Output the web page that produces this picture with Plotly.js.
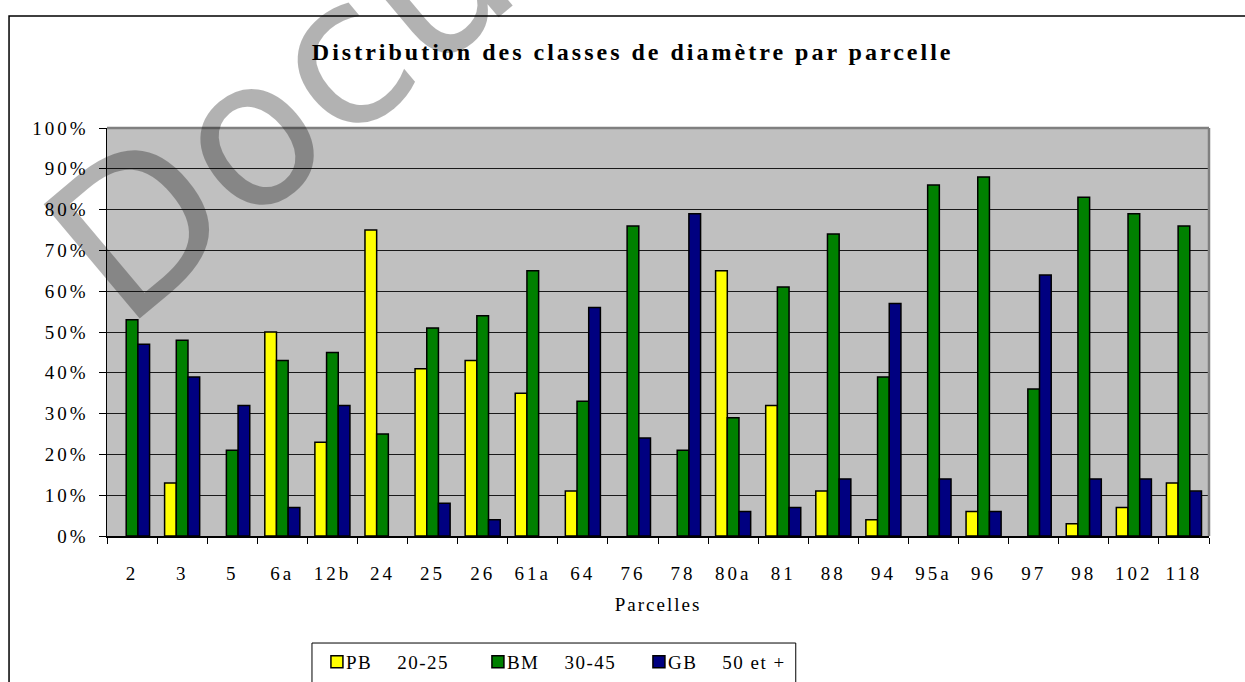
<!DOCTYPE html>
<html><head><meta charset="utf-8">
<script src="https://cdn.plot.ly/plotly-3.0.1.min.js"></script>
<style>
body{margin:0;background:#fff}
#chart{width:1245px;height:682px}
.xtick text,.ytick text{letter-spacing:3px}
.gtitle{letter-spacing:3px}
.xtitle{letter-spacing:2px}
.legendtext{letter-spacing:1.5px;transform:translateX(-11px)}
</style></head><body><div id="chart"></div>
<script>
const categories = ['2','3','5','6a','12b','24','25','26','61a','64','76','78','80a','81','88','94','95a','96','97','98','102','118'];
const pb = [0,13,0,50,23,75,41,43,35,11,0,0,65,32,11,4,0,6,0,3,7,13];
const bm = [53,48,21,43,45,25,51,54,65,33,76,21,29,61,74,39,86,88,36,83,79,76];
const gb = [47,39,32,7,32,0,8,4,0,56,24,79,6,7,14,57,14,6,64,14,14,11];
const seriesNames = ['PB\u00a0\u00a0\u00a0\u00a020-25','BM\u00a0\u00a0\u00a0\u00a030-45','GB\u00a0\u00a0\u00a0\u00a050 et +'];
const seriesColors = ['#ffff00','#008000','#000080'];
const yTickVals = [0,10,20,30,40,50,60,70,80,90,100];
const yTickText = ['0%','10%','20%','30%','40%','50%','60%','70%','80%','90%','100%'];

const serif = "'Liberation Serif'";
const series = [pb, bm, gb];
const traces = series.map((vals, i) => ({
  type: 'bar',
  name: seriesNames[i],
  x: categories,
  y: vals.map(v => v === 0 ? null : v),
  marker: {color: seriesColors[i], line: {color: '#000', width: 1.5}},
  hoverinfo: 'skip'
}));

const layout = {
  width: 1245, height: 682,
  margin: {l: 107, r: 36, t: 128, b: 146},
  paper_bgcolor: '#fff',
  plot_bgcolor: '#c0c0c0',
  barmode: 'group',
  bargap: 0.3,
  bargroupgap: 0,
  font: {family: serif, color: '#000', size: 19},
  title: {
    text: 'Distribution des classes de diamètre par parcelle',
    font: {family: serif, size: 24, weight: 'bold', color: '#000'},
    xref: 'paper', x: 0.477, xanchor: 'center',
    yref: 'container', y: 0.924, yanchor: 'middle'
  },
  xaxis: {
    type: 'category',
    tickson: 'boundaries',
    ticks: 'outside', ticklen: 6, tickcolor: '#000', tickwidth: 1,
    showline: true, linecolor: '#000', linewidth: 1.5,
    showgrid: false,
    ticklabelstandoff: 20,
    tickfont: {family: serif, size: 19, color: '#000'},
    title: {text: 'Parcelles', font: {family: serif, size: 19, color: '#000'}, standoff: 14}
  },
  yaxis: {
    range: [0, 100],
    tickmode: 'array',
    tickvals: yTickVals,
    ticktext: yTickText,
    ticks: 'outside', ticklen: 7, tickcolor: '#000', tickwidth: 1,
    showline: true, linecolor: '#000', linewidth: 1.5,
    showgrid: true, gridcolor: '#1a1a1a', gridwidth: 1,
    zeroline: false,
    ticklabelstandoff: 6,
    tickfont: {family: serif, size: 19, color: '#000'}
  },
  showlegend: true,
  legend: {
    orientation: 'h',
    xref: 'paper', x: 0.1905, xanchor: 'left',
    yref: 'container', y: 0.0293, yanchor: 'middle',
    entrywidth: 116, entrywidthmode: 'pixels',
    font: {family: serif, size: 19, color: '#000'},
    bgcolor: 'rgba(0,0,0,0)', borderwidth: 0,
    traceorder: 'normal'
  },
  shapes: [
    {type: 'line', xref: 'paper', yref: 'paper', x0: 0, x1: 1, y0: 1, y1: 1, line: {color: '#808080', width: 2.5}, layer: 'above'},
    {type: 'line', xref: 'paper', yref: 'paper', x0: 1, x1: 1, y0: 0, y1: 1, line: {color: '#808080', width: 2.5}, layer: 'above'},
    {type: 'rect', xref: 'paper', yref: 'paper', x0: -0.0889, x1: 1.1, y0: -0.45, y1: 1.2745, line: {color: '#000', width: 1.5}, layer: 'above'},
    {type: 'rect', xref: 'paper', yref: 'paper', x0: 0.186, x1: 0.625, y0: -0.45, y1: -0.2623, line: {color: '#000', width: 1}, layer: 'above'}
  ],
  annotations: [
    {text: 'Docu', xref: 'paper', yref: 'paper', x: 0.157, y: 1.049, xanchor: 'center', yanchor: 'middle',
     showarrow: false, textangle: -40,
     font: {family: "'DejaVu Sans'", size: 205, color: 'rgba(0,0,0,0.3)'}}
  ]
};

Plotly.newPlot('chart', traces, layout, {displayModeBar: false, staticPlot: true});
</script></body></html>
